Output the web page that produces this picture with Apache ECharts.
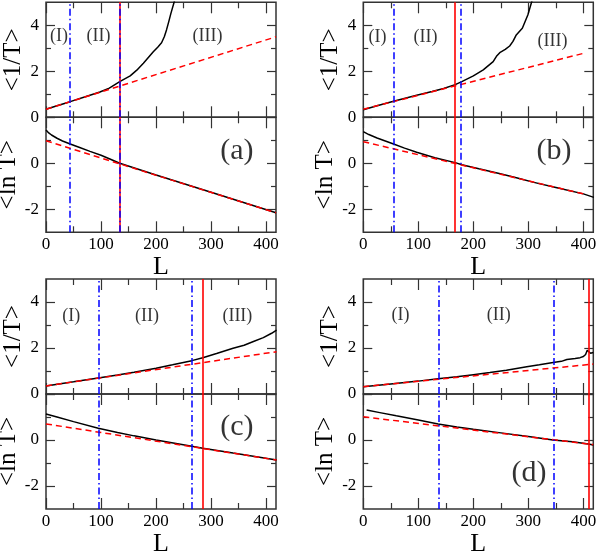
<!DOCTYPE html>
<html>
<head>
<meta charset="utf-8">
<script src="https://cdn.jsdelivr.net/npm/echarts@6/dist/echarts.min.js"></script>
<style>
  html, body { margin: 0; padding: 0; background: #fff; }
  #chart { width: 599px; height: 552px; }
</style>
</head>
<body>
<div id="chart"></div>
<script>
// ticks shared by all panels
var xMajor = [0, 100, 200, 300, 400];
var xMinor = [50, 150, 250, 350];
var invMajor = [0, 2, 4];
var invMinor = [1, 3];
var lnMajor = [-2, 0, 2];
var lnLabels = [-2, 0];
var lnMinor = [-1, 1];
var regionNames = ['(I)', '(II)', '(III)'];

// panel (a)
var invL_a = [0, 20, 44, 70, 98, 115, 134, 153, 165, 177, 186, 195, 203, 210, 215, 219, 223, 227, 234];
var inv_a = [0.35, 0.5, 0.68, 0.88, 1.1, 1.27, 1.55, 1.8, 2.05, 2.35, 2.6, 2.85, 3.05, 3.24, 3.5, 3.8, 4.15, 4.52, 5.1];
var lnL_a = [0, 5, 10, 20, 30, 44, 60, 80, 100, 115, 134, 200, 300, 418];
var ln_a = [1.45, 1.32, 1.23, 1.09, 0.97, 0.84, 0.7, 0.52, 0.35, 0.2, 0.0, -0.51, -1.26, -2.15];
var fitL_a = [0, 418];
var fitInv_a = [0.35, 3.50];
var fitLn_a = [0.98, -2.15];
var blueL_a = [43.6, 133.3];
var redL_a = [133.3];
var regionL_a = [23.6, 95.5, 293.6];
var regionY_a = [3.53, 3.53, 3.53];
var tag_a = [347, 0.53];

// panel (b)
var invL_b = [0, 25, 55, 97, 125, 146, 167, 179, 200, 218, 236, 242, 248, 258, 266, 272, 278, 289, 299, 307];
var inv_b = [0.33, 0.5, 0.7, 0.96, 1.12, 1.25, 1.42, 1.55, 1.8, 2.06, 2.42, 2.65, 2.81, 2.95, 3.1, 3.3, 3.58, 3.87, 4.45, 5.1];
var lnL_b = [0, 10, 25, 40, 55, 75, 97, 130, 167, 179, 210, 249, 280, 310, 350, 400, 419];
var ln_b = [1.38, 1.25, 1.1, 0.97, 0.84, 0.66, 0.48, 0.24, 0.03, -0.06, -0.24, -0.45, -0.64, -0.83, -1.05, -1.33, -1.48];
var fitL_b = [0, 400];
var fitInv_b = [0.35, 2.78];
var fitLn_b = [0.94, -1.33];
var blueL_b = [54.5, 178];
var redL_b = [166.7];
var regionL_b = [26, 113, 344];
var regionY_b = [3.47, 3.47, 3.3];
var tag_b = [346.7, 0.53];

// panel (c)
var invL_c = [0, 50, 95, 130, 160, 200, 230, 265, 285, 310, 340, 360, 377, 395, 410, 419];
var inv_c = [0.35, 0.53, 0.70, 0.83, 0.95, 1.12, 1.27, 1.45, 1.58, 1.76, 1.99, 2.12, 2.28, 2.45, 2.64, 2.78];
var lnL_c = [0, 20, 50, 95, 130, 160, 200, 265, 285, 340, 419];
var ln_c = [1.13, 1.0, 0.8, 0.51, 0.33, 0.18, 0.0, -0.27, -0.36, -0.57, -0.87];
var fitL_c = [0, 419];
var fitInv_c = [0.35, 1.84];
var fitLn_c = [0.70, -0.87];
var blueL_c = [95, 265];
var redL_c = [285];
var regionL_c = [46, 183.6, 347.8];
var regionY_c = [3.4, 3.4, 3.4];
var tag_c = [347, 0.58];

// panel (d)
var invL_d = [0, 50, 100, 136, 170, 200, 230, 260, 297, 320, 345, 360, 370, 385, 394, 400, 404, 407, 410, 413, 418];
var inv_d = [0.32, 0.44, 0.56, 0.66, 0.75, 0.84, 0.93, 1.03, 1.18, 1.27, 1.37, 1.42, 1.5, 1.54, 1.58, 1.63, 1.72, 1.9, 1.82, 1.77, 1.8];
var lnL_d = [6, 30, 60, 100, 136, 170, 200, 250, 300, 345, 380, 409, 418];
var ln_d = [1.30, 1.19, 1.05, 0.87, 0.70, 0.57, 0.47, 0.31, 0.15, 0.0, -0.08, -0.17, -0.22];
var fitL_d = [0, 418];
var fitInv_d = [0.32, 1.30];
var fitLn_d = [1.01, -0.20];
var blueL_d = [136.9, 345.5];
var redL_d = [409.5];
var regionL_d = [67.8, 246];
var regionY_d = [3.43, 3.43];
var tag_d = [301.3, -1.43];

var serif = 'Liberation Serif';
var frame = '#333';
var panels = [
  { left: 46, top: 2.3, invL: invL_a, inv: inv_a, lnL: lnL_a, ln: ln_a, fitL: fitL_a, fitInv: fitInv_a, fitLn: fitLn_a,
    blue: blueL_a, red: redL_a, regL: regionL_a, regY: regionY_a, tag: '(a)', tagPos: tag_a },
  { left: 363.3, top: 2.3, invL: invL_b, inv: inv_b, lnL: lnL_b, ln: ln_b, fitL: fitL_b, fitInv: fitInv_b, fitLn: fitLn_b,
    blue: blueL_b, red: redL_b, regL: regionL_b, regY: regionY_b, tag: '(b)', tagPos: tag_b },
  { left: 46, top: 279, invL: invL_c, inv: inv_c, lnL: lnL_c, ln: ln_c, fitL: fitL_c, fitInv: fitInv_c, fitLn: fitLn_c,
    blue: blueL_c, red: redL_c, regL: regionL_c, regY: regionY_c, tag: '(c)', tagPos: tag_c },
  { left: 363.3, top: 279, invL: invL_d, inv: inv_d, lnL: lnL_d, ln: ln_d, fitL: fitL_d, fitInv: fitInv_d, fitLn: fitLn_d,
    blue: blueL_d, red: redL_d, regL: regionL_d, regY: regionY_d, tag: '(d)', tagPos: tag_d }
];

function pairs(xs, ys) {
  return xs.map(function (x, i) { return [x, ys[i]]; });
}

function xAxis(gi, pos, ticks, len, label, name) {
  return {
    type: 'value', gridIndex: gi, position: pos, min: 0, max: 418,
    axisLine: { show: false, onZero: false }, splitLine: { show: false },
    axisTick: { show: true, inside: true, length: len, customValues: ticks, lineStyle: { color: frame, width: 1.2 } },
    axisLabel: { show: label, customValues: xMajor, margin: 4, color: '#000', fontFamily: serif, fontSize: 17 },
    name: name, nameLocation: 'middle', nameGap: 19,
    nameTextStyle: { color: '#000', fontFamily: serif, fontSize: 26 }
  };
}

function yAxis(gi, pos, min, max, ticks, len, labels, name) {
  return {
    type: 'value', gridIndex: gi, position: pos, min: min, max: max,
    axisLine: { show: false, onZero: false }, splitLine: { show: false },
    axisTick: { show: true, inside: true, length: len, customValues: ticks, lineStyle: { color: frame, width: 1.2 } },
    axisLabel: { show: !!labels, customValues: labels || [], margin: 7, color: '#000', fontFamily: serif, fontSize: 17 },
    name: name, nameLocation: 'middle', nameGap: 20, nameRotate: 90,
    nameTextStyle: { color: '#000', fontFamily: serif, fontSize: 25 }
  };
}

var grids = [], xAxes = [], yAxes = [], series = [];

panels.forEach(function (p) {
  [0, 1].forEach(function (sub) {
    var lower = sub === 1;
    var min = lower ? -3 : 0, max = lower ? 2 : 5;
    var maj = lower ? lnMajor : invMajor, mnr = lower ? lnMinor : invMinor;
    var base = grids.length;
    // one grid per tick set, all stacked on the same box
    var layers = [
      ['bottom', 'left', xMajor, maj, 11, 9, true],
      ['bottom', 'left', xMinor, mnr, 6, 5, false],
      ['top', 'right', xMajor, maj, 11, 9, false],
      ['top', 'right', xMinor, mnr, 6, 5, false]
    ];
    layers.forEach(function (ly, k) {
      var gi = grids.length;
      grids.push({
        left: p.left, top: p.top + sub * 115, width: 230, height: 115,
        show: k === 0, borderColor: frame, borderWidth: 1.5, backgroundColor: 'transparent',
        outerBoundsMode: 'none'
      });
      var main = ly[6];
      xAxes.push(xAxis(gi, ly[0], ly[2], ly[4], main && lower, main && lower ? 'L' : ''));
      yAxes.push(yAxis(gi, ly[1], min, max, ly[3], ly[5], main ? (lower ? lnLabels : invMajor) : null,
        main ? (lower ? '<ln T>' : '<1/T>') : ''));
    });

    var ai = base;
    series.push({
      type: 'line', xAxisIndex: ai, yAxisIndex: ai, z: 2,
      data: lower ? pairs(p.lnL, p.ln) : pairs(p.invL, p.inv),
      symbol: 'none', lineStyle: { color: '#000', width: 1.5 }, animation: false
    });
    series.push({
      type: 'line', xAxisIndex: ai, yAxisIndex: ai, z: 3,
      data: pairs(p.fitL, lower ? p.fitLn : p.fitInv),
      symbol: 'none', lineStyle: { color: '#ff0000', width: 1.5, type: [6, 4] }, animation: false
    });
    // vertical region borders: red solid first, blue dash-dot over it
    series.push({
      type: 'line', xAxisIndex: ai, yAxisIndex: ai, z: 4, data: [], animation: false,
      color: '#ff0000',
      markLine: { silent: true, symbol: ['none', 'none'], label: { show: false }, animation: false,
        lineStyle: { color: '#ff0000', type: 'solid', width: 1.6, opacity: 1 },
        data: p.red.map(function (x) { return { xAxis: x }; }) }
    });
    series.push({
      type: 'line', xAxisIndex: ai, yAxisIndex: ai, z: 5, data: [], animation: false,
      color: '#0000ff',
      markLine: { silent: true, symbol: ['none', 'none'], label: { show: false }, animation: false,
        lineStyle: { color: '#0000ff', type: [7, 3, 1.5, 3], width: 1.5, opacity: 1 },
        data: p.blue.map(function (x) { return { xAxis: x }; }) }
    });
    var texts = [];
    if (!lower) {
      p.regL.forEach(function (x, i) { texts.push({ value: [x, p.regY[i]], name: regionNames[i], size: 18 }); });
    } else {
      texts.push({ value: p.tagPos, name: p.tag, size: 30 });
    }
    series.push({
      type: 'scatter', xAxisIndex: ai, yAxisIndex: ai, z: 6, silent: true, animation: false,
      symbolSize: 1, itemStyle: { color: 'rgba(0,0,0,0)' },
      data: texts.map(function (t) {
        return { value: t.value, name: t.name,
          label: { show: true, position: 'inside', formatter: '{b}', color: '#000', fontFamily: serif, fontSize: t.size } };
      })
    });
  });
});

var chart = echarts.init(document.getElementById('chart'), null, { renderer: 'canvas' });
chart.setOption({
  backgroundColor: '#fff',
  animation: false,
  grid: grids,
  xAxis: xAxes,
  yAxis: yAxes,
  series: series
});
</script>
</body>
</html>
